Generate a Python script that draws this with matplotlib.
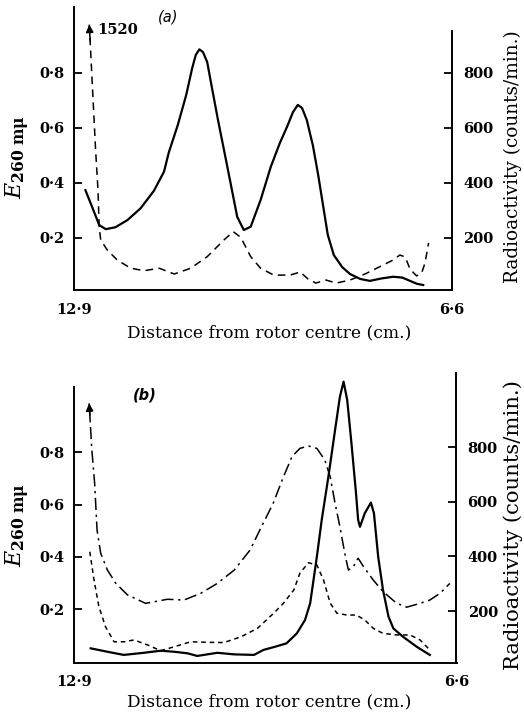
import numpy as np
import matplotlib.pyplot as plt
from matplotlib.ticker import FixedLocator, FixedFormatter

plt.rcParams['mathtext.fontset'] = 'dejavuserif'

# ---- panel (a) ----
# distance from rotor centre (cm) and E260 (solid line)
a_e_x = [12.71, 12.60, 12.48, 12.37, 12.21, 12.01, 11.79, 11.57, 11.40, 11.32,
         11.17, 11.03, 10.93, 10.87, 10.81, 10.75, 10.68, 10.60, 10.50, 10.40,
         10.29, 10.18, 10.07, 9.955, 9.79, 9.62, 9.47, 9.35, 9.25, 9.17,
         9.10, 9.02, 8.92, 8.83, 8.75, 8.67, 8.57, 8.43, 8.30, 8.13,
         7.97, 7.77, 7.58, 7.43, 7.30, 7.18, 7.08]
a_e = [0.373, 0.313, 0.246, 0.231, 0.238, 0.264, 0.307, 0.370, 0.440, 0.510,
       0.610, 0.719, 0.817, 0.865, 0.885, 0.875, 0.839, 0.744, 0.628, 0.519,
       0.398, 0.276, 0.228, 0.240, 0.337, 0.458, 0.544, 0.603, 0.657, 0.683,
       0.672, 0.628, 0.537, 0.428, 0.319, 0.210, 0.137, 0.093, 0.068, 0.050,
       0.043, 0.052, 0.058, 0.055, 0.043, 0.032, 0.028]

# radioactivity (counts/min), dashed line; first point is off scale (1520)
a_rad_x = [12.645, 12.54, 12.50, 12.48, 12.455, 12.345, 12.18, 11.955, 11.73, 11.48,
           11.23, 10.955, 10.68, 10.40, 10.245, 10.12, 9.955, 9.79, 9.57, 9.30,
           9.13, 9.00, 8.87, 8.70, 8.53, 8.30, 8.05, 7.80, 7.58, 7.47,
           7.38, 7.30, 7.19, 7.105, 7.05, 6.99]
a_rad = [1520, 519, 373, 240, 192, 155, 119, 89, 80, 89,
         68, 89, 131, 192, 222, 201, 131, 89, 64, 64,
         75, 50, 35, 46, 35, 46, 68, 95, 119, 137,
         130, 86, 61, 72, 108, 181]

# ---- panel (b) ----
b_e_x = [12.625, 12.35, 12.08, 11.75, 11.47, 11.25, 11.03, 10.87, 10.54, 10.26,
         9.935, 9.78, 9.59, 9.40, 9.23, 9.095, 9.01, 8.90, 8.82, 8.71,
         8.60, 8.52, 8.46, 8.40, 8.33, 8.255, 8.22, 8.19, 8.11, 8.01,
         7.96, 7.89, 7.81, 7.72, 7.64, 7.48, 7.255, 7.04]
b_e = [0.052, 0.039, 0.027, 0.035, 0.043, 0.039, 0.033, 0.023, 0.035, 0.029,
       0.027, 0.046, 0.058, 0.071, 0.109, 0.160, 0.224, 0.401, 0.541, 0.706,
       0.884, 1.011, 1.068, 0.998, 0.833, 0.643, 0.541, 0.515, 0.567, 0.607,
       0.567, 0.401, 0.274, 0.173, 0.128, 0.096, 0.058, 0.027]

b_dash_x = [12.64, 12.57, 12.49, 12.38, 12.24, 12.08, 11.91, 11.69, 11.47, 11.25,
            10.98, 10.70, 10.43, 10.15, 9.88, 9.61, 9.45, 9.28, 9.18, 9.04,
            8.90, 8.79, 8.68, 8.57, 8.41, 8.25, 8.11, 7.97, 7.81, 7.585,
            7.365, 7.20, 7.04]
b_dash = [0.420, 0.312, 0.211, 0.134, 0.077, 0.077, 0.084, 0.065, 0.043, 0.058,
          0.077, 0.075, 0.074, 0.096, 0.128, 0.186, 0.224, 0.274, 0.338, 0.378,
          0.370, 0.312, 0.224, 0.186, 0.179, 0.179, 0.160, 0.128, 0.109, 0.103,
          0.103, 0.084, 0.046]

# radioactivity (counts/min), dot-dash; first point runs off scale
b_rad_x = [12.65, 12.61, 12.56, 12.52, 12.46, 12.35, 12.21, 12.02, 11.72, 11.36,
           11.09, 10.81, 10.54, 10.26, 10.00, 9.84, 9.62, 9.45, 9.31, 9.18,
           9.04, 8.90, 8.77, 8.68, 8.60, 8.52, 8.43, 8.38, 8.30, 8.22,
           8.13, 7.97, 7.81, 7.585, 7.42, 7.20, 7.04, 6.87, 6.71]
b_rad = [960, 801, 667, 496, 411, 350, 301, 259, 228, 243,
         240, 265, 301, 350, 423, 496, 594, 691, 765, 795,
         804, 795, 753, 691, 594, 508, 399, 350, 362, 393,
         362, 313, 271, 228, 214, 228, 240, 265, 301]

e_ticks = [0.2, 0.4, 0.6, 0.8]
e_labels = ['0·2', '0·4', '0·6', '0·8']
rad_ticks = [200, 400, 600, 800]
rad_labels = ['200', '400', '600', '800']
x_ticks = [12.9, 6.6]
x_labels = ['12·9', '6·6']

W, H = 524, 717
fig = plt.figure(figsize=(W / 100, H / 100), dpi=100)
tick_font = dict(family='DejaVu Serif', weight='bold', size=10.5)


def make_axes(left, right, top, bottom, ylim, ylim_r, lspine_top, rspine_top):
    ax = fig.add_axes([left / W, 1 - bottom / H, (right - left) / W, (bottom - top) / H])
    ax.set_xlim(12.9, 6.6)
    ax.set_ylim(*ylim)
    ax2 = ax.twinx()
    ax2.set_ylim(*ylim_r)
    for a in (ax, ax2):
        a.spines['top'].set_visible(False)
        for s in a.spines.values():
            s.set_linewidth(1.4)
    ax.spines['right'].set_visible(False)
    ax2.spines['left'].set_visible(False)
    ax2.spines['bottom'].set_visible(False)
    ax.spines['left'].set_bounds(ylim[0], lspine_top)
    ax2.spines['right'].set_bounds(ylim_r[0], rspine_top)

    ax.yaxis.set_major_locator(FixedLocator(e_ticks))
    ax.yaxis.set_major_formatter(FixedFormatter(e_labels))
    ax2.yaxis.set_major_locator(FixedLocator(rad_ticks))
    ax2.yaxis.set_major_formatter(FixedFormatter(rad_labels))
    ax.xaxis.set_major_locator(FixedLocator(x_ticks))
    ax.xaxis.set_major_formatter(FixedFormatter(x_labels))
    ax.tick_params(axis='y', direction='in', length=6, width=1.3, pad=7)
    ax2.tick_params(axis='y', direction='in', length=6, width=1.3, pad=8)
    ax.tick_params(axis='x', length=0, pad=9)
    for lab in ax.get_xticklabels() + ax.get_yticklabels() + ax2.get_yticklabels():
        lab.set(**tick_font)
    return ax, ax2


def labels(ycen, xl_y, rsize):
    fig.text(18 / W, 1 - ycen / H, r'$E_{\mathbf{260\ m}\mathbf{\mu}}$', rotation=90,
             ha='center', va='center', fontsize=16)
    fig.text(513 / W, 1 - ycen / H, 'Radioactivity (counts/min.)', rotation=90,
             ha='center', va='center', family='DejaVu Serif', fontsize=rsize)
    fig.text(269 / W, 1 - xl_y / H, 'Distance from rotor centre (cm.)',
             ha='center', va='center', family='DejaVu Serif', fontsize=12.3)


def arrow_head(ax, x, y, dx, dy):
    ax.annotate('', xy=(x, y), xytext=(x + dx, y - dy),
                arrowprops=dict(arrowstyle='-|>', color='black', lw=1.1,
                                mutation_scale=11, shrinkA=0, shrinkB=0))


# panel (a)
ax, ax2 = make_axes(74, 452, 7.3, 290, (0.0098, 1.038), (9.8, 1038), 1.038, 953)
cap_a = 975
a_rad_plot = np.minimum(a_rad, cap_a)
ax.plot(a_e_x, a_e, color='black', lw=1.6, solid_joinstyle='round')
ax2.plot(a_rad_x, a_rad_plot, color='black', lw=1.1, linestyle=(0, (5, 3.5)))
arrow_head(ax2, a_rad_x[0], cap_a, -0.015, 60)
ax2.text(a_rad_x[0] - 0.14, cap_a - 20, str(a_rad[0]), ha='left', va='center', **tick_font)
fig.text(168 / W, 1 - 17 / H, '(a)', ha='center', va='center', style='italic',
         family='DejaVu Sans', fontsize=10.5)
labels(157, 333, 13.3)

# panel (b)
ax, ax2 = make_axes(74, 456.5, 373, 662.7, (-0.0027, 1.101), (10.8, 1071), 1.048, 1071)
cap_b = b_rad[0]
ax.plot(b_e_x, b_e, color='black', lw=1.6, solid_joinstyle='round')
ax.plot(b_dash_x, b_dash, color='black', lw=1.1, linestyle=(0, (3, 2.5)))
ax2.plot(b_rad_x, b_rad, color='black', lw=1.1, linestyle=(0, (8, 3, 1.5, 3)))
arrow_head(ax2, b_rad_x[0], cap_b, -0.015, 60)
fig.text(145 / W, 1 - 395 / H, '(b)', ha='center', va='center', style='italic',
         family='DejaVu Sans', weight='bold', fontsize=10.5)
labels(525, 702, 15.2)

fig.savefig('out.png', dpi=100)
